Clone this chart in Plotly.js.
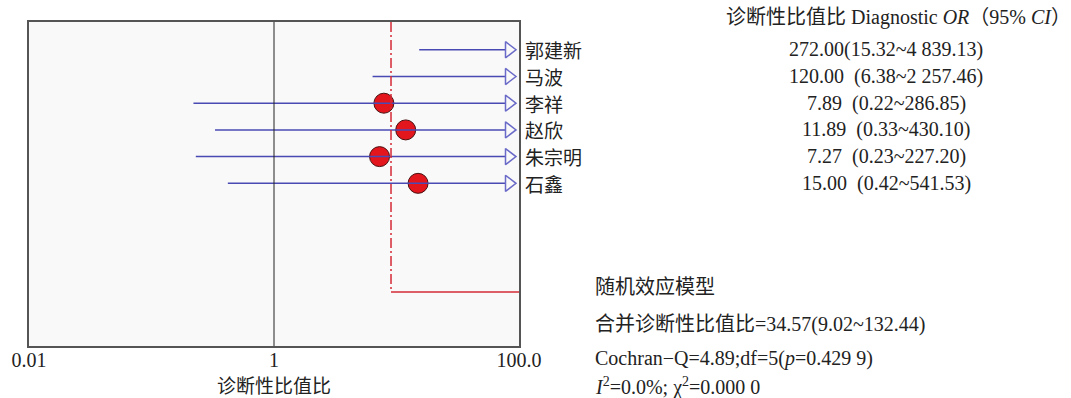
<!DOCTYPE html>
<html>
<head>
<meta charset="utf-8">
<script src="https://cdn.plot.ly/plotly-3.0.1.min.js"></script>
<style>
  html, body { margin: 0; padding: 0; background: #ffffff; }
  #chart { width: 1071px; height: 398px; }
</style>
</head>
<body>
<div id="chart"></div>
<script>
// ---- data ----
const studies = ['郭建新', '马波', '李祥', '赵欣', '朱宗明', '石鑫'];
const orValues = [272.00, 120.00, 7.89, 11.89, 7.27, 15.00];
const ciLower = [15.32, 6.38, 0.22, 0.33, 0.23, 0.42];
const ciUpper = [4839.13, 2257.46, 286.85, 430.10, 227.20, 541.53];
const rowTexts = [
  '272.00(15.32~4\u00a0839.13)',
  '120.00\u00a0\u00a0(6.38~2\u00a0257.46)',
  '7.89\u00a0\u00a0(0.22~286.85)',
  '11.89\u00a0\u00a0(0.33~430.10)',
  '7.27\u00a0\u00a0(0.23~227.20)',
  '15.00\u00a0\u00a0(0.42~541.53)'
];
const pooledOR = 34.57;
const pooledLower = 9.02;
const pooledUpper = 132.44;
const tickValues = [0.01, 1, 100];
const tickLabels = ['0.01', '1', '100.0'];
const axisTitle = '诊断性比值比';
const headerText = '诊断性比值比 Diagnostic <i>OR</i>（95% <i>CI</i>）';
const summaryLines = [
  '随机效应模型',
  '合并诊断性比值比=34.57(9.02~132.44)',
  'Cochran\u2212Q=4.89;df=5(<i>p</i>=0.429\u00a09)',
  '<i>I</i><sup>2</sup>=0.0%; χ<sup>2</sup>=0.000\u00a00'
];

// ---- geometry / style ----
const W = 1071, H = 398;
const M = {l: 29, r: 552, t: 22, b: 52};
const PW = W - M.l - M.r, PH = H - M.t - M.b;
const xMin = 0.01, xMax = 100;
const yRange = [11.09, -1.04];       // row units, reversed
const pooledRow = 9.07;
const FONT = 'Liberation Serif, "Noto Sans CJK SC", serif';
const CJK = '"Noto Sans CJK SC", "Liberation Serif", sans-serif';
const TXT = '#222222';
const lineCol = '#4a4ab4';
const arrowCol = '#6a6ac8';
const redCol = '#d42a36';

const px2x = p => (p - M.l) / PW;
const px2y = p => (H - M.b - p) / PH;
// arrow marker centre sits a few pixels inside the right edge
const arrowX = Math.pow(10, Math.log10(xMax) - (10 / PW) * (Math.log10(xMax) - Math.log10(xMin)));

const rows = studies.map((_, i) => i);

// circles (only estimates inside the axis range)
const inIdx = rows.filter(i => orValues[i] <= xMax && orValues[i] >= xMin);
const circles = {
  type: 'scatter', mode: 'markers', hoverinfo: 'skip',
  x: inIdx.map(i => orValues[i]), y: inIdx.map(i => i),
  marker: {size: 20, color: '#e3151d', line: {color: '#4a1212', width: 1}}
};

// CI lines
const lx = [], ly = [];
rows.forEach(i => {
  lx.push(Math.max(ciLower[i], xMin), ciUpper[i] > xMax ? arrowX : ciUpper[i], null);
  ly.push(i, i, null);
});
const ciLines = {
  type: 'scatter', mode: 'lines', hoverinfo: 'skip',
  x: lx, y: ly, line: {color: lineCol, width: 1.5}
};

// arrows for CIs that exceed the axis
const arIdx = rows.filter(i => ciUpper[i] > xMax);
const arrows = {
  type: 'scatter', mode: 'markers', hoverinfo: 'skip',
  x: arIdx.map(() => arrowX), y: arIdx.map(i => i),
  marker: {symbol: 'triangle-right', size: 14, color: '#f9f9f9', line: {color: arrowCol, width: 1.5}}
};

// pooled reference (dash-dot vertical) and pooled CI line
const pooledV = {
  type: 'scatter', mode: 'lines', hoverinfo: 'skip',
  x: [pooledLower, pooledLower], y: [yRange[1], pooledRow],
  line: {color: redCol, width: 1.5, dash: '10px,3px,2px,3px'}
};
const pooledH = {
  type: 'scatter', mode: 'lines', hoverinfo: 'skip',
  x: [pooledLower, Math.min(pooledUpper, xMax)], y: [pooledRow, pooledRow],
  line: {color: redCol, width: 1.5}
};

const annotations = [];
studies.forEach((s, i) => annotations.push({
  xref: 'paper', yref: 'y', x: px2x(523), y: i, xanchor: 'left', yanchor: 'middle',
  text: s, showarrow: false, font: {family: CJK, size: 19, color: TXT}
}));
rowTexts.forEach((t, i) => annotations.push({
  xref: 'paper', yref: 'y', x: px2x(886), y: i, xanchor: 'center', yanchor: 'middle',
  text: t, showarrow: false, font: {family: FONT, size: 20, color: TXT}
}));
annotations.push({
  xref: 'paper', yref: 'paper', x: px2x(898), y: px2y(18), xanchor: 'center', yanchor: 'middle',
  text: headerText, showarrow: false, font: {family: FONT, size: 20, color: TXT}
});
const sumY = [287, 324, 358, 386];
summaryLines.forEach((t, k) => annotations.push({
  xref: 'paper', yref: 'paper', x: px2x(593), y: px2y(sumY[k]), xanchor: 'left', yanchor: 'middle',
  text: t, showarrow: false, font: {family: FONT, size: 20, color: TXT}
}));

const layout = {
  width: W, height: H,
  margin: M,
  paper_bgcolor: '#ffffff',
  plot_bgcolor: '#f9f9f9',
  showlegend: false,
  font: {family: FONT, color: TXT},
  xaxis: {
    type: 'log', range: [Math.log10(xMin), Math.log10(xMax)],
    tickvals: tickValues, ticktext: tickLabels, ticks: '', ticklen: 0,
    ticklabelstandoff: -5,
    showgrid: false, zeroline: false,
    showline: true, mirror: true, linecolor: '#555555', linewidth: 2,
    tickfont: {family: FONT, size: 20, color: TXT},
    title: {text: axisTitle, font: {family: CJK, size: 19, color: TXT}, standoff: 8},
    automargin: false, fixedrange: true
  },
  yaxis: {
    range: yRange, showticklabels: false, ticks: '',
    showgrid: false, zeroline: false,
    showline: true, mirror: true, linecolor: '#555555', linewidth: 2,
    automargin: false, fixedrange: true
  },
  shapes: [{
    type: 'line', xref: 'x', yref: 'paper', x0: 1, x1: 1, y0: 0, y1: 1,
    line: {color: '#222222', width: 1}
  }],
  annotations: annotations
};

Plotly.newPlot('chart', [circles, ciLines, arrows, pooledV, pooledH], layout, {staticPlot: true, displayModeBar: false});
</script>
</body>
</html>
